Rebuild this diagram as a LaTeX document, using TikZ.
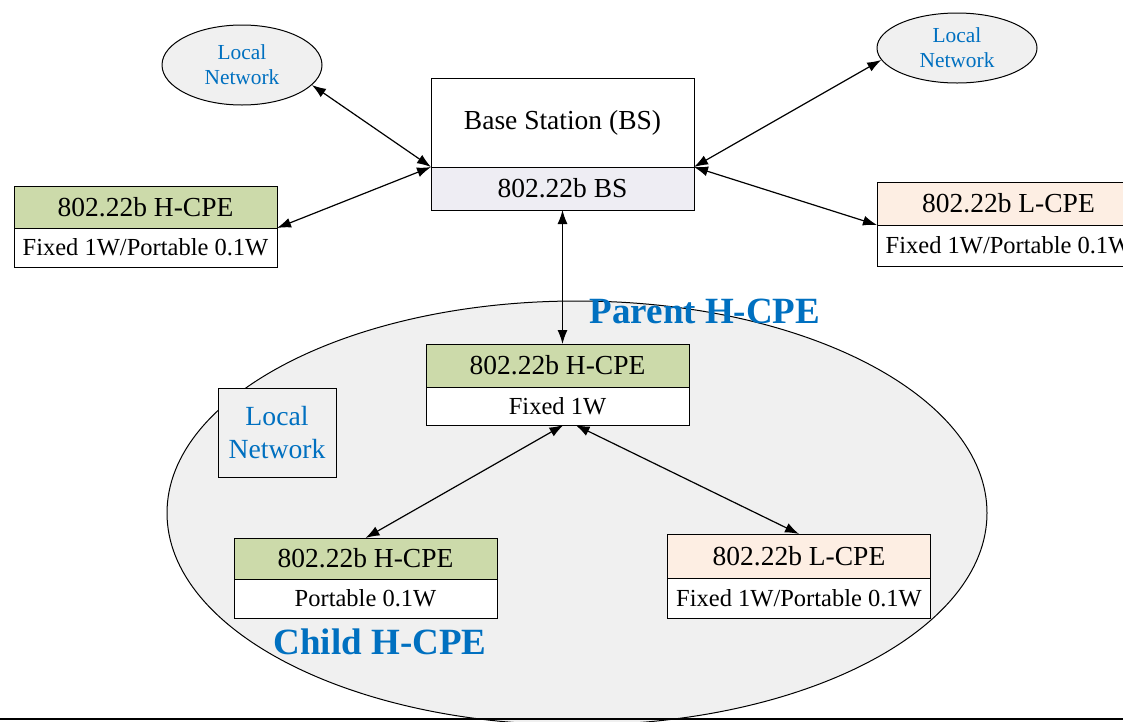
\documentclass[tikz,border=0pt]{standalone}
\usepackage{fontspec}
\setmainfont{Liberation Serif}
\usetikzlibrary{positioning, arrows.meta, shapes.geometric}
\definecolor{hcpegreen}{HTML}{CCDAAA}
\definecolor{lcpepeach}{HTML}{FDEEE3}
\definecolor{bsgray}{HTML}{EEEDF3}
\definecolor{netgray}{HTML}{F0F0F0}
\definecolor{netblue}{HTML}{0070C0}

\begin{document}
\begin{tikzpicture}[x=1pt, y=-1pt,
	box/.style={draw, line width=1pt, inner sep=0pt, outer sep=0pt, minimum width=263pt, align=center},
	head/.style={box, minimum height=42pt, font=\fontsize{27.5}{30}\selectfont},
	spec/.style={box, fill=white, minimum height=39pt, font=\fontsize{24.5}{27}\selectfont},
	lan/.style={draw, line width=1pt, inner sep=0pt, fill=netgray, text=netblue, align=center},
	link/.style={{Latex[length=14pt,width=10pt]}-{Latex[length=14pt,width=10pt]}, line width=1.2pt},
	tag/.style={text=netblue, font=\fontsize{37}{40}\selectfont\bfseries}]
		\useasboundingbox (0,0) rectangle (1123,721);
		\clip (0,0) rectangle (1123,721);
		% cloud of the child network
		\draw[line width=1pt, fill=netgray] (577,513) ellipse [x radius=410, y radius=212];
		\draw[line width=1.2pt] (0,719) -- (1123,719);
		% base station and the local networks
		\node[box, minimum height=89pt, font=\fontsize{27.5}{30}\selectfont] (bs) at (562.5,122.5) {Base Station (BS)};
		\node[head, fill=bsgray, minimum height=43pt, below=0pt of bs] (bsmac) {802.22b BS};
		\node[lan, ellipse, minimum width=160pt, minimum height=80pt, font=\fontsize{21.4}{25}\selectfont] (lanL) at (242,65) {Local\\Network};
		\node[lan, ellipse, minimum width=160pt, minimum height=70pt, font=\fontsize{21.4}{25}\selectfont] (lanR) at (957,48) {Local\\Network};
		% CPEs around the BS
		\node[head, fill=hcpegreen] (hcpe) at (145.5,207) {802.22b H-CPE};
		\node[spec, below=0pt of hcpe] (hcpespec) {Fixed 1W/Portable 0.1W};
		\node[head, fill=lcpepeach, minimum height=43pt] (lcpe) at (1008.5,203.5) {802.22b L-CPE};
		\node[spec, minimum height=41pt, below=0pt of lcpe] (lcpespec) {Fixed 1W/Portable 0.1W};
		% parent and child CPEs
		\node[head, fill=hcpegreen, minimum height=43pt] (parent) at (557.5,365.5) {802.22b H-CPE};
		\node[spec, minimum height=38pt, below=0pt of parent] (parentspec) {Fixed 1W};
		\node[head, fill=hcpegreen, minimum height=41pt] (child) at (365.5,558.5) {802.22b H-CPE};
		\node[spec, below=0pt of child] (childspec) {Portable 0.1W};
		\node[head, fill=lcpepeach, minimum height=44pt] (childl) at (799,556) {802.22b L-CPE};
		\node[spec, minimum height=40pt, below=0pt of childl] (childlspec) {Fixed 1W/Portable 0.1W};
		\node[lan, minimum width=118pt, minimum height=89pt, font=\fontsize{27.7}{33}\selectfont] (lanC) at (277,432.5) {Local\\Network};
		\node[tag] (parenttag) at (705,311) {Parent H-CPE};
		\node[tag] (childtag) at (380,642) {Child H-CPE};
		% links
		\draw[link] (lanL.-16) -- (bs.south west);
		\draw[link] (bs.south west) -- (hcpe.south east);
		\draw[link] (bs.south east) -- (lanR.189);
		\draw[link] (bs.south east) -- (lcpe.south west);
		\draw[link] (bsmac.south) -- (bsmac.south |- parent.north);
		\draw[link] ([xshift=6pt]parentspec.south) -- (child.north);
		\draw[link] ([xshift=18pt]parentspec.south) -- (childl.north);
	\end{tikzpicture}
\end{document}
